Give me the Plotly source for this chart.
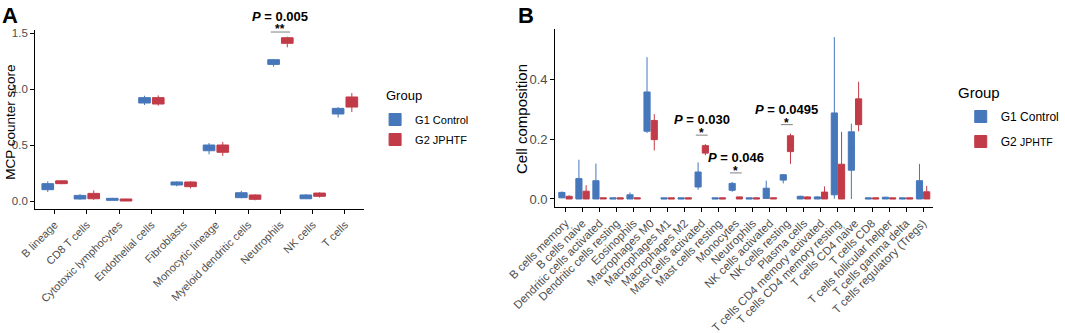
import plotly.graph_objects as go

# ---------------- Data ----------------
cats_A = ["B lineage", "CD8 T cells", "Cytotoxic lymphocytes", "Endothelial cells",
          "Fibroblasts", "Monocytic lineage", "Myeloid dendritic cells",
          "Neutrophils", "NK cells", "T cells"]
A_g1_lo = [0.080, 0.012, 0.004, 0.857, 0.131, 0.417, 0.024, 1.200, 0.018, 0.744]
A_g1_q1 = [0.101, 0.018, 0.006, 0.875, 0.143, 0.449, 0.030, 1.220, 0.020, 0.777]
A_g1_md = [0.130, 0.035, 0.015, 0.900, 0.155, 0.470, 0.050, 1.240, 0.040, 0.800]
A_g1_q3 = [0.155, 0.050, 0.024, 0.923, 0.170, 0.500, 0.074, 1.262, 0.054, 0.827]
A_g1_hi = [0.176, 0.062, 0.028, 0.940, 0.176, 0.518, 0.092, 1.268, 0.062, 0.839]
A_g2_lo = [0.150, 0.010, 0.000, 0.851, 0.113, 0.402, 0.006, 1.372, 0.030, 0.795]
A_g2_q1 = [0.155, 0.020, 0.000, 0.866, 0.128, 0.435, 0.015, 1.408, 0.042, 0.839]
A_g2_md = [0.170, 0.045, 0.008, 0.895, 0.150, 0.470, 0.035, 1.430, 0.055, 0.880]
A_g2_q3 = [0.180, 0.068, 0.018, 0.923, 0.170, 0.500, 0.054, 1.458, 0.071, 0.929]
A_g2_hi = [0.185, 0.095, 0.020, 0.943, 0.176, 0.527, 0.060, 1.467, 0.077, 0.964]

cats_B = ["B cells memory", "B cells naive", "Dendritic cells activated",
          "Dendritic cells resting", "Eosinophils", "Macrophages M0", "Macrophages M1",
          "Macrophages M2", "Mast cells activated", "Mast cells resting", "Monocytes",
          "Neutrophils", "NK cells activated", "NK cells resting", "Plasma cells",
          "T cells CD4 memory activated", "T cells CD4 memory resting",
          "T cells CD4 naive", "T cells CD8", "T cells follicular helper",
          "T cells gamma delta", "T cells regulatory (Tregs)"]
B_g1_lo = [0.002, 0, 0, 0, 0, 0.220, 0, 0, 0.031, 0, 0.024, 0, 0.001, 0.052, 0, 0, 0.001, 0.000, 0, 0, 0, 0]
B_g1_q1 = [0.004, 0, 0, 0, 0, 0.226, 0, 0, 0.040, 0, 0.029, 0, 0.002, 0.063, 0, 0, 0.014, 0.096, 0, 0, 0, 0]
B_g1_md = [0.012, 0.020, 0.020, 0.001, 0.006, 0.270, 0.001, 0.001, 0.060, 0.001, 0.040, 0.001, 0.015, 0.070, 0.004, 0.003, 0.120, 0.170, 0.001, 0.002, 0.001, 0.030]
B_g1_q3 = [0.022, 0.068, 0.061, 0.004, 0.014, 0.357, 0.004, 0.004, 0.090, 0.004, 0.052, 0.004, 0.036, 0.081, 0.009, 0.007, 0.287, 0.224, 0.004, 0.006, 0.004, 0.061]
B_g1_hi = [0.025, 0.131, 0.118, 0.004, 0.022, 0.473, 0.004, 0.004, 0.122, 0.004, 0.057, 0.004, 0.061, 0.083, 0.011, 0.009, 0.540, 0.251, 0.004, 0.007, 0.004, 0.117]
B_g2_lo = [0, 0, 0, 0, 0, 0.162, 0, 0, 0.146, 0, 0, 0, 0, 0.117, 0, 0, 0, 0.226, 0, 0, 0, 0]
B_g2_q1 = [0, 0, 0, 0, 0, 0.198, 0, 0, 0.153, 0, 0, 0, 0, 0.158, 0, 0, 0, 0.248, 0, 0, 0, 0]
B_g2_md = [0.005, 0.015, 0.002, 0.001, 0.002, 0.230, 0.001, 0.001, 0.165, 0.001, 0.004, 0.001, 0.002, 0.180, 0.004, 0.008, 0.050, 0.300, 0.001, 0.001, 0.001, 0.015]
B_g2_q3 = [0.009, 0.026, 0.004, 0.004, 0.004, 0.262, 0.004, 0.004, 0.178, 0.004, 0.007, 0.004, 0.004, 0.211, 0.007, 0.023, 0.116, 0.334, 0.004, 0.004, 0.004, 0.024]
B_g2_hi = [0.012, 0.046, 0.004, 0.004, 0.004, 0.283, 0.004, 0.004, 0.183, 0.004, 0.008, 0.004, 0.004, 0.218, 0.008, 0.042, 0.224, 0.391, 0.004, 0.004, 0.004, 0.044]

group_names = ["G1 Control", "G2 JPHTF"]
sig_A = [("Neutrophils", "0.005", "**")]
sig_B = [("Mast cells activated", "0.030", "*"), ("Monocytes", "0.046", "*"),
         ("NK cells resting", "0.0495", "*")]

# ---------------- Style ----------------
BLUE = "#4677BA"
RED = "#C23B48"
FONT = "Liberation Sans, Arial, sans-serif"
GREY_TXT = "#4D4D4D"

yrange_A = [-0.0714, 1.527]
yrange_B = [-0.0267, 0.567]

fig = go.Figure()

def add_box(cats, lo, q1, md, q3, hi, name, color, xa, ya, legend, og, ag, lg):
    fig.add_trace(go.Box(
        x=cats, lowerfence=lo, q1=q1, median=md, q3=q3, upperfence=hi,
        name=name, marker_color=color, fillcolor=color,
        line=dict(color=color, width=1), whiskerwidth=0, boxpoints=False,
        xaxis=xa, yaxis=ya, legend=legend, offsetgroup=og, alignmentgroup=ag,
        legendgroup=lg, showlegend=True, hoverinfo="skip"))

add_box(cats_A, A_g1_lo, A_g1_q1, A_g1_md, A_g1_q3, A_g1_hi, group_names[0], BLUE, "x", "y", "legend", "g1", "A", "a1")
add_box(cats_A, A_g2_lo, A_g2_q1, A_g2_md, A_g2_q3, A_g2_hi, group_names[1], RED, "x", "y", "legend", "g2", "A", "a2")
add_box(cats_B, B_g1_lo, B_g1_q1, B_g1_md, B_g1_q3, B_g1_hi, group_names[0], BLUE, "x2", "y2", "legend2", "g1", "B", "b1")
add_box(cats_B, B_g2_lo, B_g2_q1, B_g2_md, B_g2_q3, B_g2_hi,
        "G2 <span style='font-size:10.5px'>JPHTF</span>", RED, "x2", "y2", "legend2", "g2", "B", "b2")

W, H = 1065, 333
def px_x(p): return p / W
def px_y(p): return 1 - p / H

axis_common = dict(showline=True, linecolor="black", linewidth=1.2, ticks="outside",
                   ticklen=4, tickcolor="black", tickwidth=1, showgrid=False,
                   zeroline=False, automargin=False)

fig.update_layout(
    width=W, height=H, margin=dict(l=0, r=0, t=0, b=0),
    paper_bgcolor="white", plot_bgcolor="white",
    font=dict(family=FONT, color="black"),
    boxmode="group", boxgap=0.15, boxgroupgap=0.15,
    xaxis=dict(domain=[px_x(36), px_x(372)], anchor="y", type="category",
               range=[-0.6, len(cats_A) - 0.4], tickangle=-45,
               tickfont=dict(size=11, color=GREY_TXT), **axis_common),
    yaxis=dict(domain=[px_y(209), px_y(30)], anchor="x", range=yrange_A,
               tickvals=[0, 0.5, 1.0, 1.5], ticktext=["0.0", "0.5", "1.0", "1.5"],
               tickfont=dict(size=11.5, color=GREY_TXT), **axis_common),
    xaxis2=dict(domain=[px_x(567), px_x(953)], anchor="y2", type="category",
                range=[-0.6, len(cats_B) - 0.4], tickangle=-45,
                tickfont=dict(size=11.5, color=GREY_TXT), **axis_common),
    yaxis2=dict(domain=[px_y(207), px_y(29)], anchor="x2", range=yrange_B,
                tickvals=[0, 0.2, 0.4], ticktext=["0.0", "0.2", "0.4"],
                tickfont=dict(size=13, color=GREY_TXT), **axis_common),
    legend=dict(x=px_x(383), y=px_y(105), xanchor="left", yanchor="top",
                font=dict(size=11, color="black"), itemwidth=30, tracegroupgap=1,
                bgcolor="rgba(0,0,0,0)"),
    legend2=dict(x=px_x(981), y=px_y(102), xanchor="left", yanchor="top",
                 font=dict(size=12, color="black"), itemwidth=30, tracegroupgap=6,
                 bgcolor="rgba(0,0,0,0)"),
    showlegend=True,
)

annotations = [
    dict(text="<b>A</b>", x=px_x(0), y=px_y(1), xref="paper", yref="paper",
         xanchor="left", yanchor="top", showarrow=False, font=dict(size=22)),
    dict(text="<b>B</b>", x=px_x(527), y=px_y(1), xref="paper", yref="paper",
         xanchor="left", yanchor="top", showarrow=False, font=dict(size=22)),
    dict(text="Group", x=px_x(392), y=px_y(96), xref="paper", yref="paper",
         xanchor="left", yanchor="middle", showarrow=False, font=dict(size=13)),
    dict(text="Group", x=px_x(976), y=px_y(92), xref="paper", yref="paper",
         xanchor="left", yanchor="middle", showarrow=False, font=dict(size=15)),
    dict(text="MCP counter score", x=px_x(11), y=px_y(122), xref="paper", yref="paper",
         textangle=-90, xanchor="center", yanchor="middle", showarrow=False,
         font=dict(size=13.5)),
    dict(text="Cell composition", x=px_x(532), y=px_y(119), xref="paper", yref="paper",
         textangle=-90, xanchor="center", yanchor="middle", showarrow=False,
         font=dict(size=15)),
]
shapes = []

def add_sig(sigs, cats, his, xref, yref, yr, pad, star_gap, p_gap, half, size, star_size):
    span = yr[1] - yr[0]
    def dom(v): return (v - yr[0]) / span
    for cat, p, stars in sigs:
        i = cats.index(cat)
        top = max(h[i] for h in his)
        yl = top + pad
        shapes.append(dict(type="line", xref=xref, yref=yref + " domain", x0=i - half,
                           x1=i + half, y0=dom(yl), y1=dom(yl),
                           line=dict(color="#808080", width=1)))
        annotations.append(dict(text="<b>" + stars + "</b>", x=i, y=dom(yl + star_gap),
                                xref=xref, yref=yref + " domain", showarrow=False,
                                yanchor="middle", font=dict(size=star_size)))
        annotations.append(dict(text="<b><i>P</i> = " + p + "</b>", x=i,
                                y=dom(yl + p_gap), xref=xref, yref=yref + " domain",
                                showarrow=False, yanchor="middle", font=dict(size=size)))

add_sig(sig_A, cats_A, [A_g1_hi, A_g2_hi], "x", "y", yrange_A, 0.042, 0.025, 0.143, 0.3, 13, 12)
add_sig(sig_B, cats_B, [B_g1_hi, B_g2_hi], "x2", "y2", yrange_B, 0.030, 0.007, 0.052, 0.35, 13, 12)

fig.update_layout(annotations=annotations, shapes=shapes)
fig.write_html("out.html", config={"displayModeBar": False},
               post_script="document.body.style.margin='0px';")
